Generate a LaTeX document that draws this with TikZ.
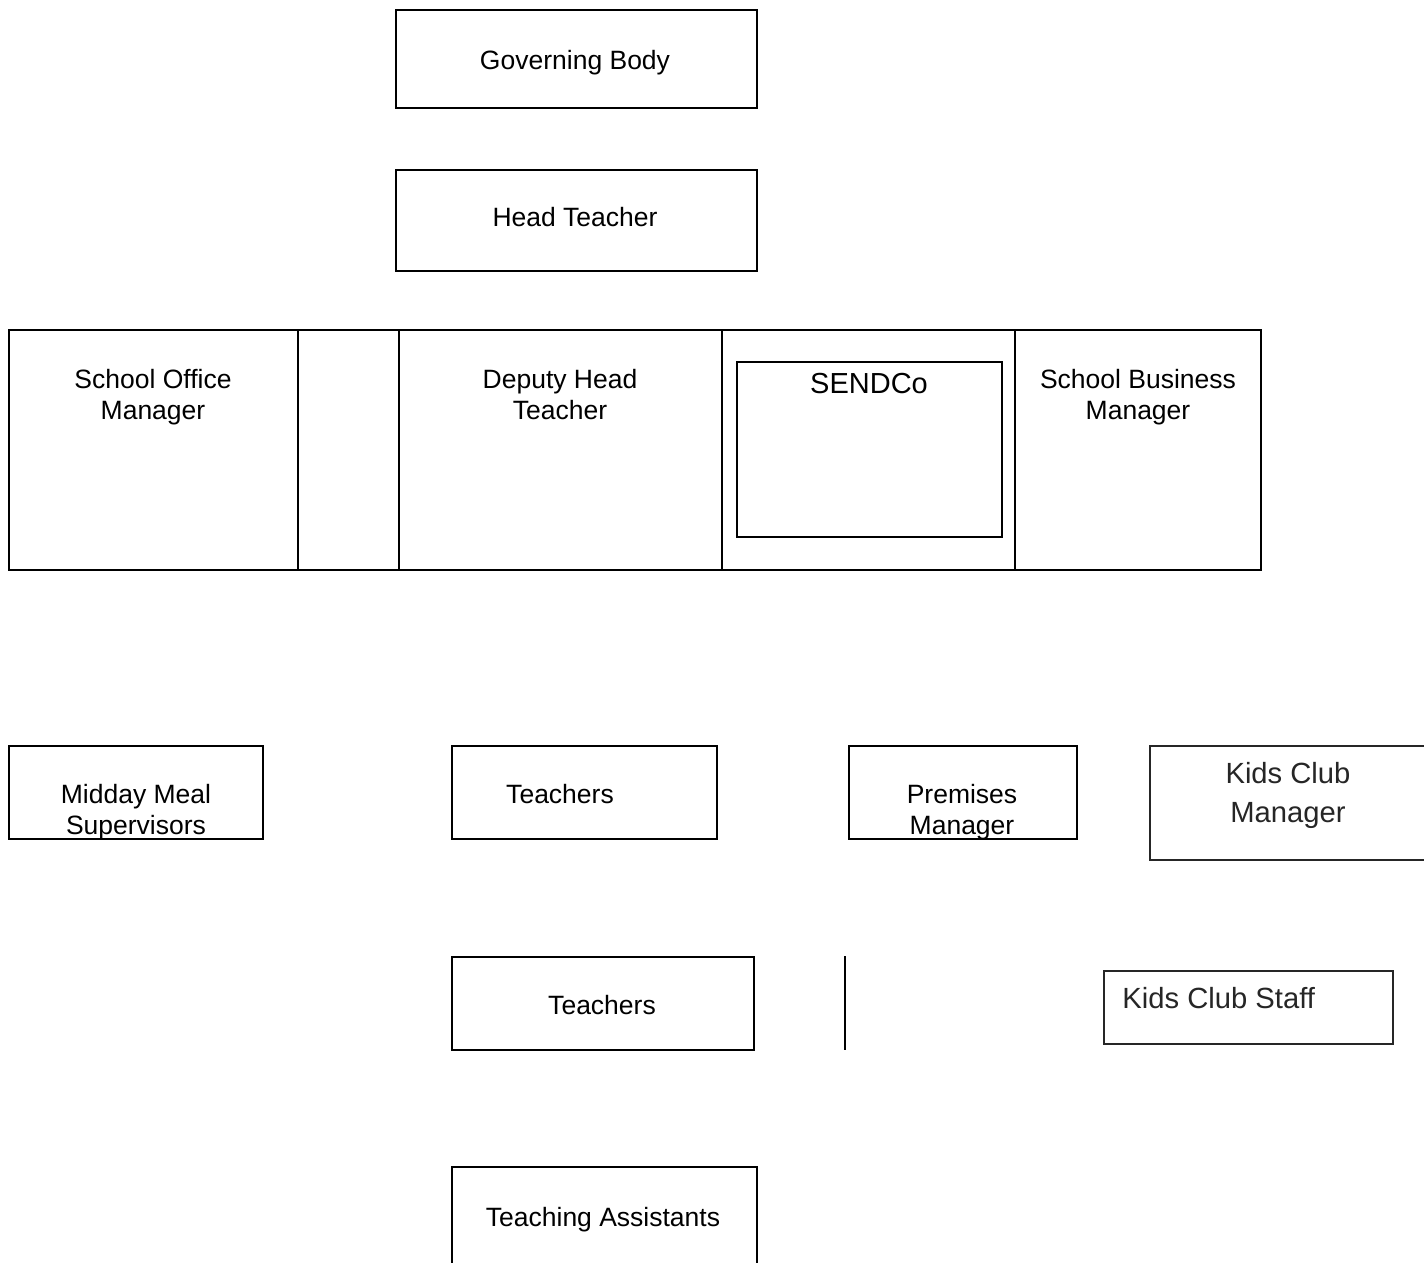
\documentclass[tikz,border=0pt]{standalone}
\usepackage{fontspec}
\setmainfont{Liberation Sans}
\usepackage{tikz}
\usetikzlibrary{positioning, fit}

\begin{document}
\begin{tikzpicture}[x=0.5pt,y=-0.5pt,
        box/.style={draw=black,line width=1.25pt,inner sep=0pt,rectangle},
        kidsbox/.style={draw=black!85,line width=0.9pt,inner sep=0pt,rectangle},
        txt/.style={inner sep=0pt,align=center,font=\fontsize{13.25}{15.5}\selectfont},
        kidstxt/.style={inner sep=0pt,align=center,text=black!85,font=\fontsize{14.6}{19.5}\selectfont}]

        \useasboundingbox (0,0) rectangle (1424,1263);
        \clip (0,0) rectangle (1424,1263);

        % top of the chart
        \node[box,fit={(396,10) (757,108)}] (gov) {};
        \node[txt] (govT) at (575,63) {Governing Body};
        \node[box,fit={(396,170) (757,271)}] (head) {};
        \node[txt] (headT) at (575,217) {Head Teacher};

        % leadership row
        \node[box,fit={(9,330) (298,570)}] (office) {};
        \node[box,fit={(298,330) (399,570)}] (gap) {};
        \node[box,fit={(399,330) (722,570)}] (deputy) {};
        \node[box,fit={(722,330) (1015,570)}] (send) {};
        \node[box,fit={(1015,330) (1261,570)}] (business) {};
        \node[box,fit={(737,362) (1002,537)}] (sendco) {};
        \node[txt] (officeT) at (153,397.5) {School Office\\Manager};
        \node[txt] (deputyT) at (560,394.5) {Deputy Head\\Teacher};
        \node[txt,font=\fontsize{14.5}{17}\selectfont] (sendcoT) at (869,384) {SENDCo};
        \node[txt] (businessT) at (1138,397.5) {School Business\\Manager};

        % staff
        \node[box,fit={(9,746) (263,839)}] (midday) {};
        \node[txt] (middayT) at (136,812.5) {Midday Meal\\Supervisors};
        \node[box,fit={(452,746) (717,839)}] (teach) {};
        \node[txt] (teachT) at (560,794) {Teachers};
        \node[box,fit={(849,746) (1077,839)}] (premises) {};
        \node[txt] (premisesT) at (962,812.5) {Premises\\Manager};
        \node[kidsbox,fit={(1150,746) (1430,860)}] (kidsmgr) {};
        \node[kidstxt] (kidsmgrT) at (1288,795.5) {Kids Club\\Manager};

        \node[box,fit={(452,957) (754,1050)}] (teachB) {};
        \node[txt] (teachBT) at (602,1005) {Teachers};
        \coordinate (v1) at (845,956);
        \coordinate (v2) at (845,1050);
        \draw[line width=1.25pt] (v1) -- (v2);
        \node[kidsbox,fit={(1104,971) (1393,1044)}] (kidsstaff) {};
        \node[kidstxt,anchor=west] (kidsstaffT) at (1122,998) {Kids Club Staff};

        \node[box,fit={(452,1167) (757,1270)}] (assist) {};
        \node[txt] (assistT) at (603,1220) {Teaching Assistants};
    \end{tikzpicture}
\end{document}
